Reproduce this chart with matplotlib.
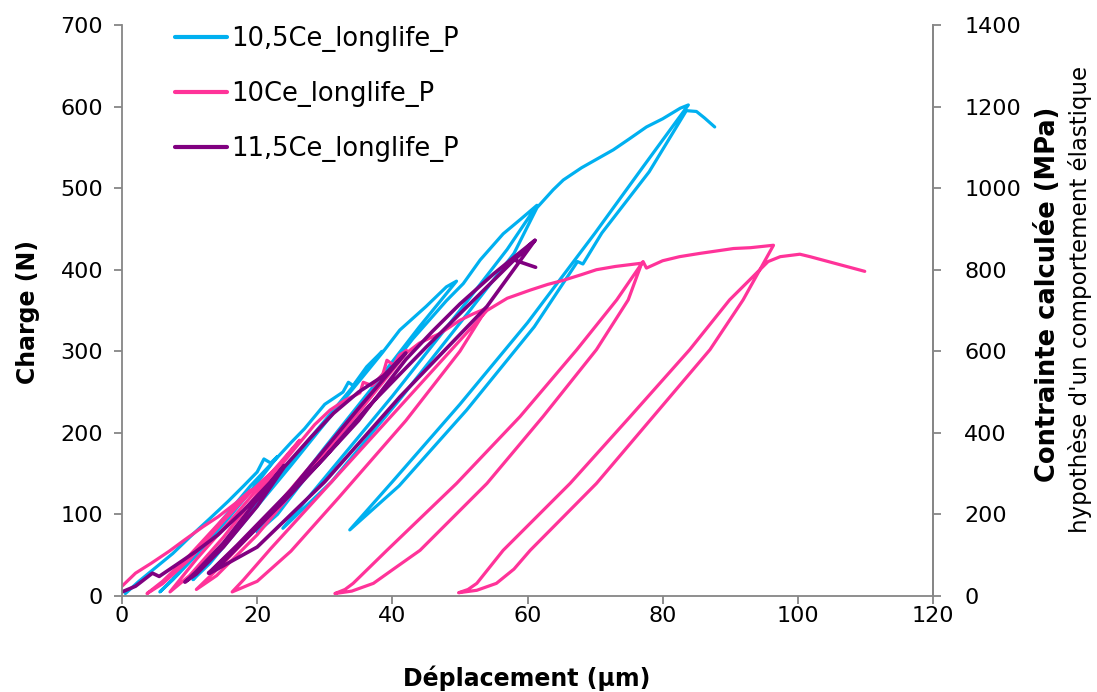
import matplotlib
matplotlib.use("Agg")
import matplotlib.pyplot as plt

# ---------------- data ----------------
labels = ["10,5Ce_longlife_P", "10Ce_longlife_P", "11,5Ce_longlife_P"]

blue_x = [0.5, 2.5, 5, 7.5, 10, 13, 15.7, 18, 20, 21.0, 22, 23,
          19, 15, 11, 8, 5.6,
          7.5, 11, 15, 19, 23,
          25, 27, 30, 32.7, 33.5, 34.2, 36.2, 38.5,
          33, 26, 19, 14, 10.5,
          13, 18, 25, 32, 38.5,
          41.1, 45, 48, 49.5,
          44, 37, 30, 24, 20,
          23, 29, 36, 43, 48, 50.5, 53,
          56.4, 59, 61.4,
          57, 50, 40, 30, 23.8,
          31, 41, 51, 58, 61.4,
          63.8, 65.3, 68, 72.7, 75, 77.6, 80, 82.6, 83.8,
          77, 70, 60, 50, 40, 33.7,
          41, 51, 61, 67.4, 68.2, 71, 78, 83.5,
          85, 86.2, 87.7]
blue_y = [3, 18, 35, 52, 72, 95, 116, 135, 152, 168, 163, 171,
          128, 88, 50, 24, 5,
          20, 55, 95, 135, 170,
          188, 205, 235, 250, 262, 258, 281, 300,
          245, 175, 103, 55, 20,
          40, 90, 160, 232, 298,
          326, 355, 379, 386,
          330, 255, 182, 118, 78,
          100, 165, 240, 315, 362, 383, 412,
          444, 462, 479,
          425, 350, 245, 145, 83,
          140, 240, 345, 420, 476,
          498, 510, 525, 547, 560, 575, 585, 598, 602,
          525, 445, 335, 235, 140, 81,
          135, 228, 330, 410, 407, 445, 520, 595,
          594, 586, 575]

pink_x = [0, 2, 4.3, 7, 9.3, 12, 14.2, 17, 19.1,
          15, 10, 6, 3.7,
          6, 10, 15, 19.1,
          21, 23.1, 25, 26.3,
          22, 16, 11, 7.1,
          10, 15, 21, 26.3,
          28.5, 30.8, 33, 35.2, 35.7, 37, 38.6, 39.2, 40.2, 41, 42.1,
          37, 30, 22, 15, 11,
          14, 20, 28, 35, 42.1,
          44, 45.5, 47.1, 50, 52, 54,
          50, 42, 32, 25, 20, 16.3,
          18, 22, 30.8, 40, 48, 54,
          57, 60.4, 63, 65.3, 68, 70.2, 73, 76.9,
          74.9, 70.2, 62.3, 54, 44.1, 40, 37.2, 34, 31.5,
          33, 34.2, 39.2, 49.5, 58.9, 67.3, 73.2, 77.1,
          77.6, 80, 82.5, 85.5, 88, 90.5, 93, 96.4,
          91.9, 87, 78.6, 70.2, 60.4, 58, 55.4, 52.5, 49.8,
          51.2, 52.5, 56.4, 66.3, 75.2, 84, 89.9, 95.6,
          97.4, 100.3, 101.8, 109.9]
pink_y = [12, 28, 40, 55, 69, 85, 97, 115, 130,
          95, 50, 18, 3,
          15, 45, 92, 128,
          143, 158, 178, 191,
          150, 92, 45, 5,
          25, 72, 135, 188,
          210, 228, 240, 249, 262, 258, 272, 289, 283, 295, 301,
          250, 180, 102, 40, 8,
          25, 75, 155, 225, 298,
          310, 316, 322, 338, 346, 353,
          300, 215, 120, 55, 18, 5,
          20, 58, 138, 222, 295, 350,
          365, 375, 382, 387, 394, 400, 404, 408,
          363, 302, 220, 138, 56, 32, 15.5, 6, 3,
          8, 15.5, 56, 138, 220, 302, 363, 410,
          402, 411, 416, 420, 423, 426, 427, 430,
          363, 302, 220, 138, 56, 33, 15.5, 7, 4,
          8, 15.5, 56, 138, 220, 302, 363, 410,
          416, 419, 416, 398]

purple_x = [0, 2, 4.5, 5.5, 8, 11, 14.2, 18, 22, 24,
            20, 15, 11, 9.3,
            11, 15, 20, 24,
            28, 31.3, 35, 38.7, 42,
            35, 25, 17, 12.8,
            15, 25, 35, 42,
            46, 50, 55, 58.4, 61.1,
            54, 41.1, 30, 20, 13,
            20, 30, 36.2, 45, 58.4, 61.1,
            58, 61.2]
purple_y = [5, 12, 28, 24, 38, 55, 75, 105, 140, 160,
            118, 65, 30, 17,
            27, 60, 110, 158,
            195, 224, 250, 270, 298,
            230, 130, 62, 28,
            42, 125, 215, 290,
            325, 358, 395, 418, 436,
            355, 244, 140, 60, 28,
            85, 170, 230, 305, 415, 436,
            412, 403]

x_ticks = [0, 20, 40, 60, 80, 100, 120]
y_ticks = [0, 100, 200, 300, 400, 500, 600, 700]
y2_ticks = [0, 200, 400, 600, 800, 1000, 1200, 1400]

colors = ["#00B0F0", "#FF3399", "#800080"]

# ---------------- figure ----------------
plt.rcParams["font.family"] = ["DejaVu Sans"]
fig = plt.figure(figsize=(10.97, 6.92), dpi=100)
ax = fig.add_axes([122 / 1097, 1 - 596 / 692, (933 - 122) / 1097, (596 - 25) / 692])

kw = dict(solid_capstyle="round", solid_joinstyle="round")
ax.plot(blue_x, blue_y, color=colors[0], lw=2.3, label=labels[0], **kw)
ax.plot(pink_x, pink_y, color=colors[1], lw=2.3, label=labels[1], **kw)
ax.plot(purple_x, purple_y, color=colors[2], lw=2.6, label=labels[2], **kw)

ax.set_xlim(0, 120)
ax.set_ylim(0, 700)
ax.set_xticks(x_ticks)
ax.set_yticks(y_ticks)

spine_col = "#868686"
ax.spines["top"].set_visible(False)
for s in ["left", "bottom", "right"]:
    ax.spines[s].set_color(spine_col)
    ax.spines[s].set_linewidth(1.3)
ax.tick_params(axis="both", which="major", direction="out", length=5.5, width=1.3,
               color=spine_col, labelsize=16, labelcolor="black")
ax.tick_params(axis="x", pad=2)
ax.tick_params(axis="y", pad=8)

ax2 = ax.twinx()
ax2.set_ylim(0, 1400)
ax2.set_yticks(y2_ticks)
for s in ["top", "left", "bottom"]:
    ax2.spines[s].set_visible(False)
ax2.spines["right"].set_color(spine_col)
ax2.spines["right"].set_linewidth(1.3)
ax2.tick_params(axis="y", direction="out", length=5.5, width=1.3, color=spine_col,
                labelsize=16, pad=17, labelcolor="black")

fig.text(527 / 1097, 1 - 678 / 692, "Déplacement (µm)", ha="center", va="center",
         fontsize=17, fontweight="bold")
fig.text(28 / 1097, 1 - 312 / 692, "Charge (N)", rotation=90, ha="center", va="center",
         fontsize=17, fontweight="bold")
fig.text(1048 / 1097, 1 - 294 / 692, "Contrainte calculée (MPa)", rotation=90,
         ha="center", va="center", fontsize=18.5, fontweight="bold")
fig.text(1080 / 1097, 1 - 299 / 692, "hypothèse d'un comportement élastique", rotation=90,
         ha="center", va="center", fontsize=16.5)

leg = ax.legend(loc="upper left", bbox_to_anchor=(0.065, 0.998), frameon=False,
                fontsize=18.5, handlelength=2.05, handletextpad=0.15, labelspacing=1.12,
                borderpad=0, borderaxespad=0)
for h in leg.get_lines():
    h.set_linewidth(3)

fig.savefig("out.png", dpi=100, facecolor="white")
